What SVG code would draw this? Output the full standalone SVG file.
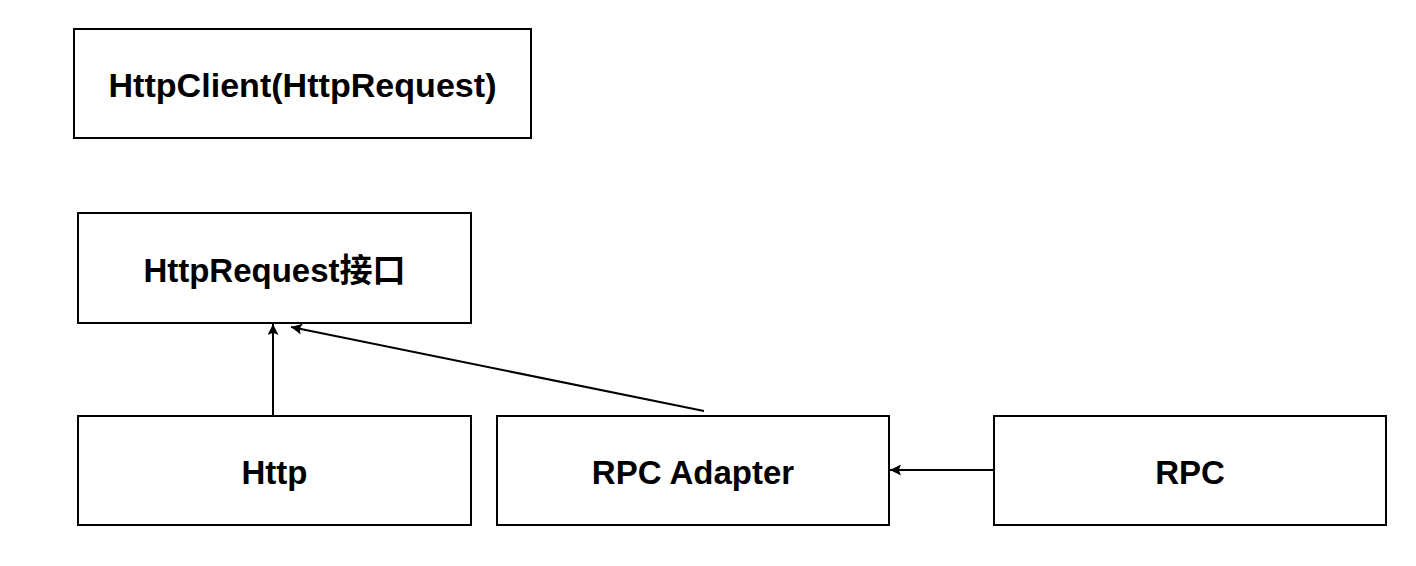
<svg xmlns="http://www.w3.org/2000/svg" width="1416" height="566" viewBox="0 0 1416 566">
<style>
.box{fill:#fff;stroke:#000;stroke-width:2}
.lbl{font-family:"Liberation Sans","Noto Sans CJK SC",Arial,sans-serif;font-weight:bold;font-size:33px;fill:#000;text-anchor:middle;dominant-baseline:central}
.edge{fill:none;stroke:#000;stroke-width:2}
</style>
<defs>
<marker id="arr" viewBox="0 0 10 10" refX="10" refY="5" markerWidth="5.5" markerHeight="5.5" orient="auto" markerUnits="strokeWidth">
<path d="M0,0 L10,5 L0,10 L2,5 z" fill="#000"/>
</marker>
</defs>
<rect width="1416" height="566" fill="#fff"/>
<g id="httpclient"><rect class="box" x="74" y="29" width="457" height="109"/><text class="lbl" x="302.5" y="85" textLength="388" lengthAdjust="spacingAndGlyphs">HttpClient(HttpRequest)</text></g>
<g id="httprequest"><rect class="box" x="78" y="213" width="393" height="110"/><text class="lbl" x="274.5" y="270">HttpRequest接口</text></g>
<g id="http"><rect class="box" x="78" y="416" width="393" height="109"/><text class="lbl" x="274.5" y="472">Http</text></g>
<g id="rpcadapter"><rect class="box" x="497" y="416" width="392" height="109"/><text class="lbl" x="693" y="472">RPC Adapter</text></g>
<g id="rpc"><rect class="box" x="994" y="416" width="392" height="109"/><text class="lbl" x="1190" y="472">RPC</text></g>
<g id="connectors">
<line class="edge" x1="273" y1="416" x2="273" y2="324" marker-end="url(#arr)"/>
<line class="edge" x1="704" y1="411" x2="291" y2="327" marker-end="url(#arr)"/>
<line class="edge" x1="994" y1="470" x2="890" y2="470" marker-end="url(#arr)"/>
</g>
</svg>
